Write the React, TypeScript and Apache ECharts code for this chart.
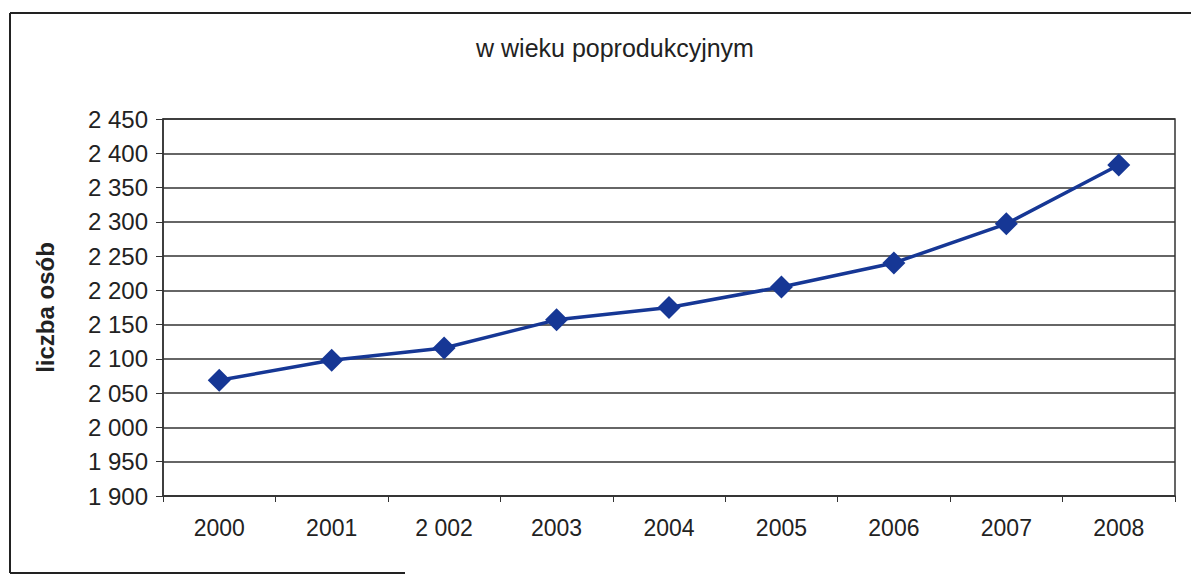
import React, { useEffect, useRef } from "react";
import * as echarts from "echarts";

const categories = ["2000", "2001", "2 002", "2003", "2004", "2005", "2006", "2007", "2008"];
const values = [2069, 2098, 2116, 2157, 2175, 2205, 2240, 2297, 2383];
const yMin = 1900;
const yMax = 2450;
const yStep = 50;
const title = "w wieku poprodukcyjnym";
const yName = "liczba osób";

export default function App() {
  const ref = useRef<HTMLDivElement>(null);
  useEffect(() => {
    document.body.style.margin = "0";
    const chart = echarts.init(ref.current!, null, { renderer: "svg" });
    const font = "Arial, Liberation Sans";
    chart.setOption({
      animation: false,
      backgroundColor: "#ffffff",
      title: {
        text: title,
        left: 610,
        top: 30,
        textAlign: "center",
        textStyle: { fontFamily: font, fontSize: 25, fontWeight: "normal", color: "#222" },
      },
      graphic: [
        { type: "line", shape: { x1: 10, y1: 13, x2: 1191, y2: 13 }, style: { stroke: "#222", lineWidth: 2 }, silent: true },
        { type: "line", shape: { x1: 10, y1: 13, x2: 10, y2: 573 }, style: { stroke: "#222", lineWidth: 2 }, silent: true },
        { type: "line", shape: { x1: 10, y1: 573, x2: 405, y2: 573 }, style: { stroke: "#222", lineWidth: 2 }, silent: true },
      ],
      grid: {
        left: 163,
        right: 16,
        top: 119,
        bottom: 80,
        show: true,
        borderColor: "#333",
        borderWidth: 1.5,
      },
      xAxis: {
        type: "category",
        data: categories,
        boundaryGap: true,
        axisLine: { lineStyle: { color: "#333", width: 1.5 } },
        axisTick: { show: true, length: 6, inside: false, lineStyle: { color: "#333" } },
        axisLabel: { fontFamily: font, fontSize: 23, color: "#222", margin: 20 },
      },
      yAxis: {
        type: "value",
        min: yMin,
        max: yMax,
        interval: yStep,
        name: yName,
        nameLocation: "middle",
        nameGap: 106,
        nameTextStyle: { fontFamily: font, fontSize: 24, fontWeight: "bold", color: "#222" },
        axisLine: { show: true, lineStyle: { color: "#333", width: 1.5 } },
        axisTick: { show: true, length: 7, lineStyle: { color: "#333" } },
        splitLine: { lineStyle: { color: "#333", width: 1.5 } },
        axisLabel: {
          fontFamily: font,
          fontSize: 24,
          color: "#222",
          margin: 15,
          formatter: (v: number) => {
            const s = String(Math.round(v));
            return s.length > 3 ? s.slice(0, s.length - 3) + " " + s.slice(-3) : s;
          },
        },
      },
      series: [
        {
          type: "line",
          data: values,
          symbol: "diamond",
          symbolSize: 23,
          lineStyle: { color: "#163795", width: 3.5 },
          itemStyle: { color: "#163795" },
        },
      ],
    });
    return () => chart.dispose();
  }, []);
  return <div ref={ref} style={{ width: 1191, height: 576 }} />;
}
